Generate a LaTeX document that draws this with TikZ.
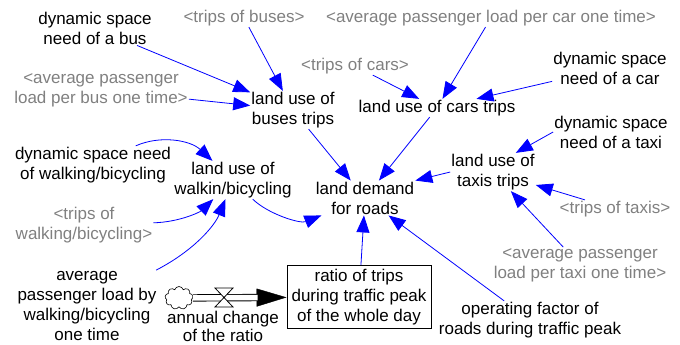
\documentclass[tikz,border=0pt]{standalone}
\usepackage{fontspec}
\setmainfont{Liberation Sans}
\usetikzlibrary{arrows.meta}
\usetikzlibrary{shapes.symbols}
\definecolor{linkblue}{rgb}{0,0,1}
\definecolor{shadowgray}{rgb}{0.5,0.5,0.5}

\begin{document}
\begin{tikzpicture}
    [x=1pt, y=-1pt,
    aux/.style={align=center, inner sep=1pt, font=\fontsize{17}{20}\selectfont},
    shadow/.style={aux, text=shadowgray},
    level/.style={aux, draw, line width=0.9pt, minimum width=144pt, minimum height=63pt},
    link/.style={-{Triangle[length=17pt, width=13pt]}, linkblue, line width=0.8pt},
    pipe/.style={double=white, double distance=5.5pt, line width=0.9pt},
    flowtip/.style={-{Triangle[length=30pt, width=18pt]}, line width=0.4pt}]
    \useasboundingbox (0,0) rectangle (680,345);
    %\draw[step=20pt,gray,very thin] (0,0) grid (680,345);
    \node[aux]    (dsbus)  at (95, 28)   {dynamic space\\need of a bus};
    \node[shadow] (tbus)   at (244, 18)  {<trips of buses>};
    \node[shadow] (lcar)   at (491, 18)  {<average passenger load per car one time>};
    \node[shadow] (tcar)   at (355, 66)  {<trips of cars>};
    \node[aux]    (dscar)  at (610, 68)  {dynamic space\\need of a car};
    \node[shadow] (lbus)   at (101, 90)  {<average passenger\\load per bus one time>};
    \node[aux]    (ubus)   at (293, 110) {land use of\\buses trips};
    \node[aux]    (ucar)   at (437, 108) {land use of cars trips};
    \node[aux]    (dstaxi) at (611, 132) {dynamic space\\need of a taxi};
    \node[aux]    (dswalk) at (93, 165)  {dynamic space need\\of walking/bicycling};
    \node[aux]    (uwalk)  at (233, 180) {land use of\\walkin/bicycling};
    \node[aux]    (utaxi)  at (493, 172) {land use of\\taxis trips};
    \node[aux]    (demand) at (365, 198) {land demand\\for roads};
    \node[shadow] (ttaxi)  at (615, 209) {<trips of taxis>};
    \node[shadow] (twalk)  at (84, 225)  {<trips of\\walking/bicycling>};
    \node[shadow] (ltaxi)  at (580, 265) {<average passenger\\load per taxi one time>};
    \node[level]  (ratio)  at (359, 297) {ratio of trips\\during traffic peak\\of the whole day};
    \node[aux]    (lwalk)  at (87, 306)  {average\\passenger load by\\walking/bicycling\\one time};
    \node[aux]    (opfac)  at (530, 320) {operating factor of\\roads during traffic peak};
    \node[aux, font=\fontsize{17}{18}\selectfont] (rate) at (223, 326) {annual change\\of the ratio};
    \node[cloud, draw, cloud puffs=9, aspect=1.3, minimum width=28pt, minimum height=23pt,
          inner sep=0pt, line width=0.6pt] (src) at (179, 298) {};
    \coordinate (valve) at (224, 298);
    \draw[flowtip] (src) -- (ratio);
    \draw[pipe, shorten >=29pt] (src) -- (ratio);
    \draw[fill=white, line width=0.8pt] ([shift={(-9,-10)}]valve) -- ([shift={(9,-10)}]valve)
        -- ([shift={(-9,9)}]valve) -- ([shift={(9,9)}]valve) -- cycle;
    \draw[link] (dsbus) -- (ubus);
    \draw[link] (tbus) -- (ubus);
    \draw[link] (lbus) -- (ubus);
    \draw[link] (ubus) -- (demand);
    \draw[link] (tcar) -- (ucar);
    \draw[link] (lcar) -- (ucar);
    \draw[link] (dscar) -- (ucar);
    \draw[link] (ucar) -- (demand);
    \draw[link] (dstaxi.west) -- (utaxi.40);
    \draw[link] (ttaxi) -- (utaxi);
    \draw[link] (ltaxi) -- (utaxi);
    \draw[link] (utaxi.west) -- (demand.north east);
    \draw[link] (dswalk) .. controls (160, 135) and (190, 140) .. (uwalk);
    \draw[link] (twalk) .. controls (180, 222) and (200, 212) .. (uwalk);
    \draw[link] (lwalk) .. controls (195, 250) and (215, 225) .. (uwalk);
    \draw[link] (uwalk) .. controls (268, 214) and (300, 224) .. (demand);
    \draw[link] (ratio) -- (demand);
    \draw[link] (opfac) -- (demand);
\end{tikzpicture}
\end{document}
